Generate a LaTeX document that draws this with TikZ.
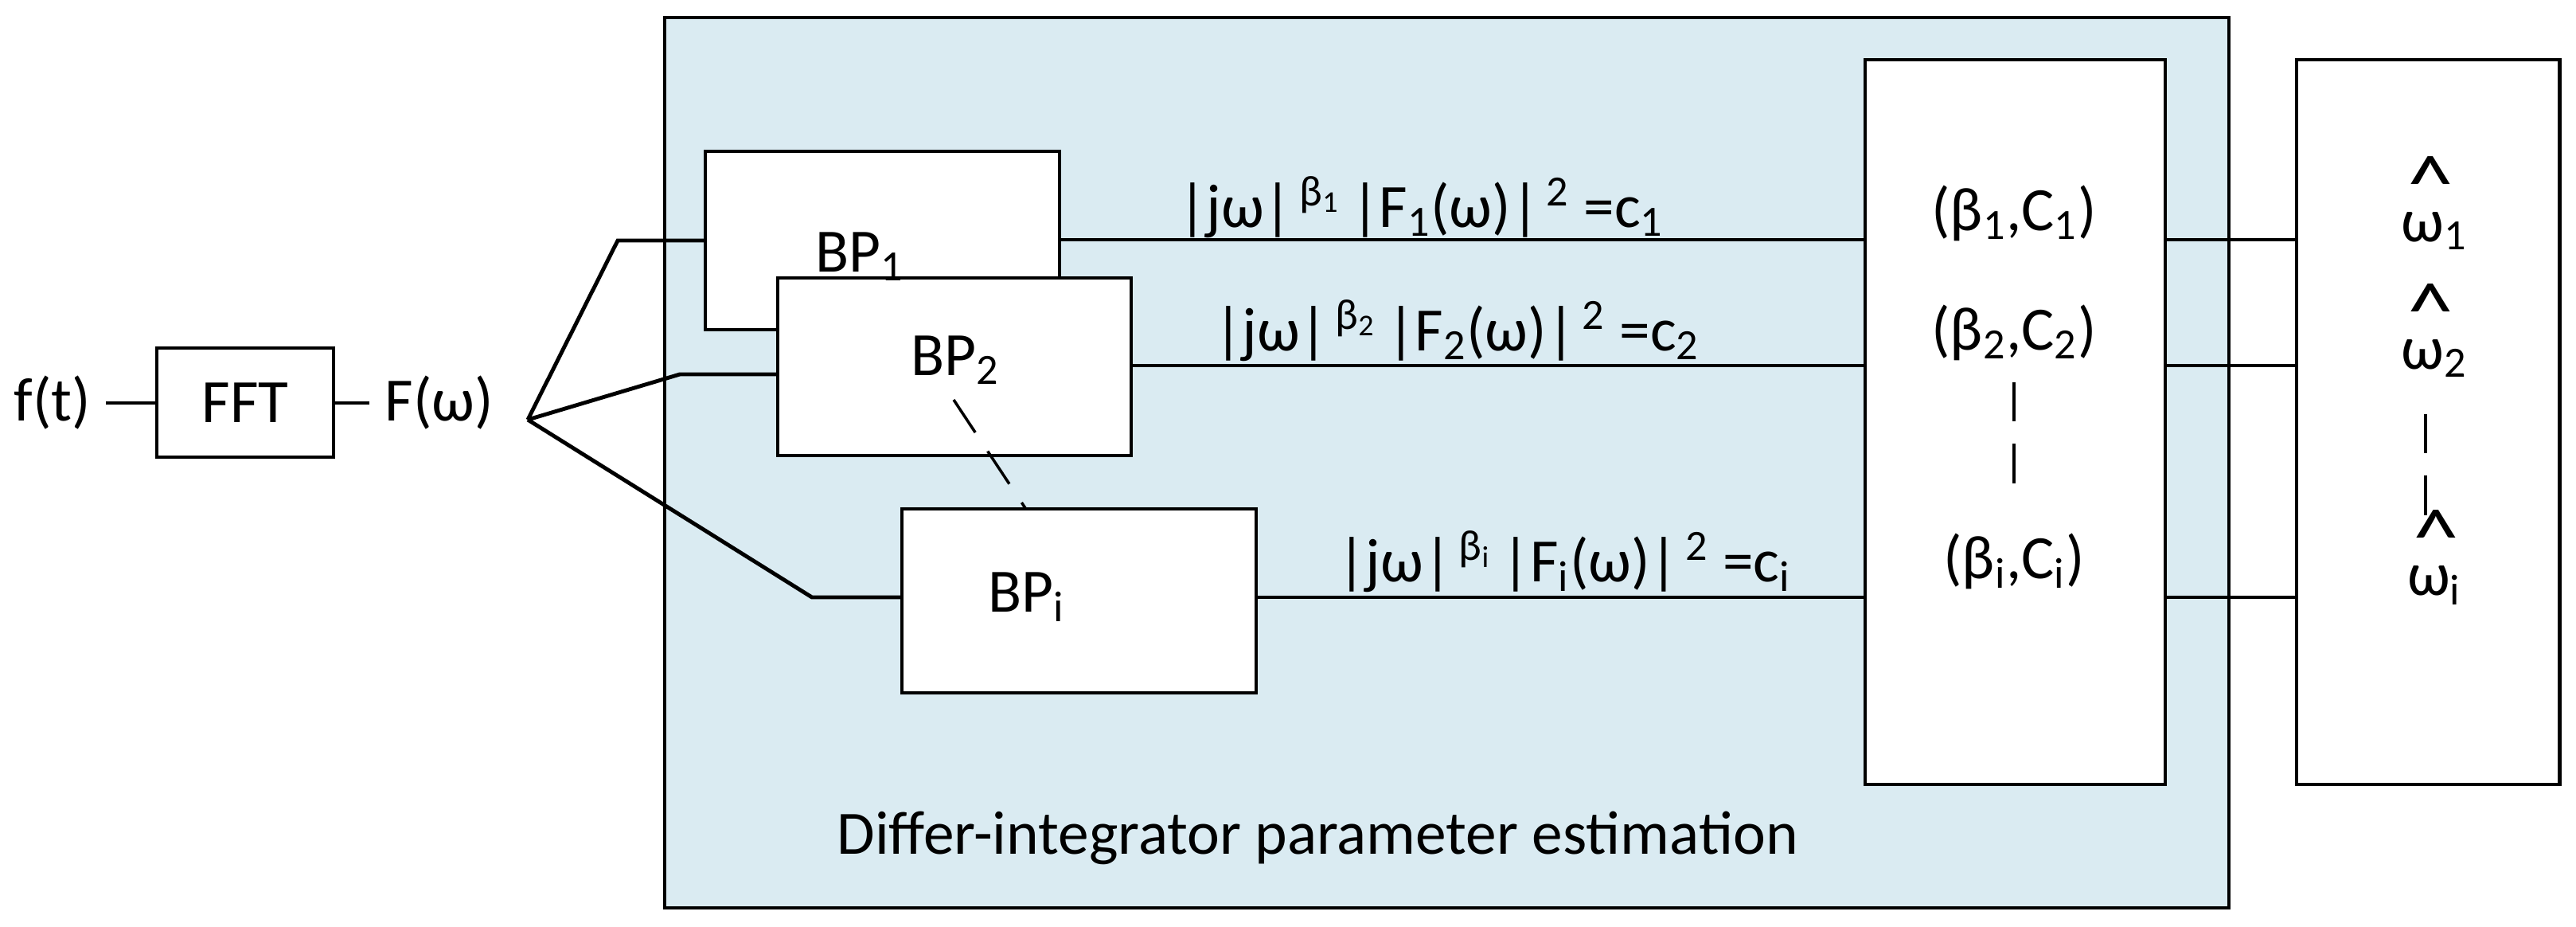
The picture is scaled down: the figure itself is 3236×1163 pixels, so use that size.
\documentclass[tikz,border=0pt]{standalone}
\usepackage{fontspec}
\setmainfont{Carlito}
\newcommand{\hatw}{\makebox[0pt][l]{\smash{\raisebox{0.5em}{\kern0.1em\scalebox{1.5}[1.3]{\textasciicircum}}}}ω}
\begin{document}
\begin{tikzpicture}[x=0.01cm,y=-0.01cm,line width=1.4pt,
  lbl/.style={font=\fontsize{22}{26}\selectfont,inner sep=0pt},
  dsh/.style={dash pattern=on 14pt off 8pt}]
\useasboundingbox (0,0) rectangle (3236,1163);
\definecolor{bg}{HTML}{DAEBF2}
\draw[fill=bg] (835,22) rectangle (2800,1140);
\node[lbl] (cap) at (1655,1052) {Differ-integrator parameter estimation};
% input
\node[lbl] (ft) at (66,506) {f(t)};
\draw (197,437) rectangle (419,574);
\node[lbl] (fft) at (308,506) {FFT};
\node[lbl] (Fw) at (552,506) {F(ω)};
\coordinate (fan) at (663,527);
\draw (133,506) -- (197,506);
\draw (419,506) -- (464,506);
% BP boxes
\draw[fill=white] (886,190) rectangle (1331,414);
\draw[fill=white] (977,349) rectangle (1421,572);
\draw[fill=white] (1133,639) rectangle (1578,870);
\node[lbl] (bp1) at (1080,322) {BP\textsubscript{1}};
\node[lbl] (bp2) at (1200,452) {BP\textsubscript{2}};
\node[lbl] (bpi) at (1290,750) {BP\textsubscript{i}};
\draw[dsh,line width=1pt] (1198,502) -- (1288,638);
\draw (fan) -- (776,302) -- (886,302);
\draw (fan) -- (854,470) -- (977,470);
\draw (fan) -- (1020,750) -- (1133,750);
% parameter boxes
\draw[fill=white] (2343,75) rectangle (2720,985);
\draw[fill=white] (2885,75) rectangle (3215,985);
\foreach \y in {301,459,750}{
  \draw (2720,\y) -- (2885,\y);}
\draw (1331,301) -- (2343,301);
\draw (1421,459) -- (2343,459);
\draw (1578,750) -- (2343,750);
\node[lbl] (e1) at (1785,260) {|jω|\textsuperscript{\,β\textsubscript{1}}\,|F\textsubscript{1}(ω)|\textsuperscript{\,2} =c\textsubscript{1}};
\node[lbl] (e2) at (1830,415) {|jω|\textsuperscript{\,β\textsubscript{2}}\,|F\textsubscript{2}(ω)|\textsuperscript{\,2} =c\textsubscript{2}};
\node[lbl] (ei) at (1965,705) {|jω|\textsuperscript{\,β\textsubscript{i}}\,|F\textsubscript{i}(ω)|\textsuperscript{\,2} =c\textsubscript{i}};
\node[lbl] (p1) at (2530,268) {(β\textsubscript{1},C\textsubscript{1})};
\node[lbl] (p2) at (2530,418) {(β\textsubscript{2},C\textsubscript{2})};
\node[lbl] (pi) at (2530,705) {(β\textsubscript{i},C\textsubscript{i})};
\draw[dsh,line width=1pt] (2530,480) -- (2530,630);
\node[lbl] (w1) at (3058,290) {\hatw\textsubscript{1}};
\node[lbl] (w2) at (3058,450) {\hatw\textsubscript{2}};
\node[lbl] (wi) at (3058,735) {\hatw\textsubscript{i}};
\draw[dsh,line width=1pt] (3047,520) -- (3047,655);
\end{tikzpicture}
\end{document}
